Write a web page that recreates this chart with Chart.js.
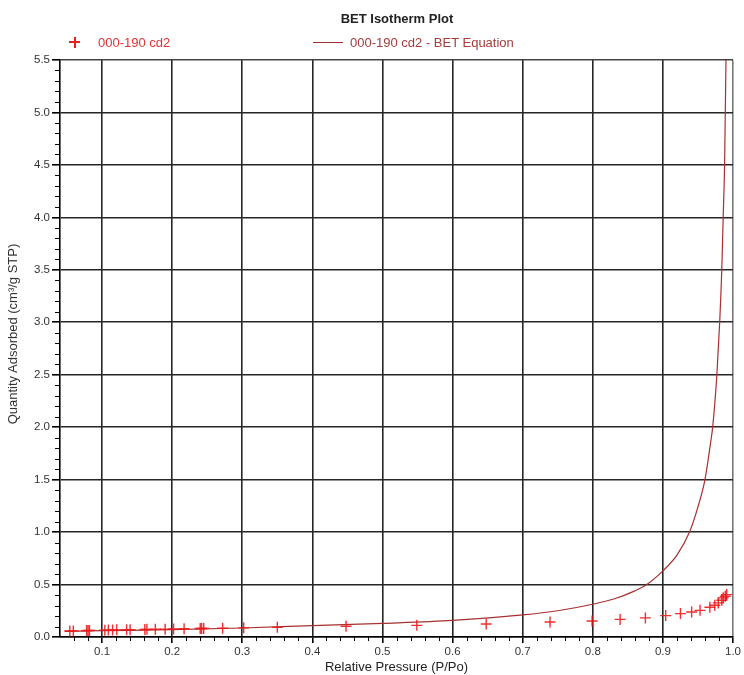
<!DOCTYPE html>
<html>
<head>
<meta charset="utf-8">
<script src="https://cdn.jsdelivr.net/npm/chart.js@4.4.1/dist/chart.umd.min.js"></script>
<style>
    body { margin: 0; background: #fff; }
    #wrap { position: relative; width: 744px; height: 675px; font-family: "Liberation Sans", Arial, sans-serif; }
    #title { position: absolute; left: 397px; top: 18px; transform: translate(-50%, -50%); font-weight: bold; font-size: 13px; color: #222; white-space: nowrap; }
    .leg { position: absolute; top: 42px; transform: translateY(-50%); font-size: 13px; white-space: nowrap; }
    #ytitle { position: absolute; left: -107px; top: 326px; width: 240px; height: 16px; line-height: 16px; text-align: center; transform: rotate(-90deg); font-size: 13px; color: #333; white-space: nowrap; }
    .crossH { position: absolute; left: 69px; top: 41px; width: 11px; height: 1.5px; background: #e82020; }
    .crossV { position: absolute; left: 74px; top: 36.5px; width: 1.5px; height: 11px; background: #e82020; }
    .lineSample { position: absolute; left: 313px; top: 41.5px; width: 30px; height: 1.3px; background: #a03030; }
</style>
</head>
<body>
<div id="wrap">
    <canvas id="chart" width="744" height="675"></canvas>
    <div id="title">BET Isotherm Plot</div>
    <div class="crossH"></div><div class="crossV"></div>
    <div class="leg" style="left:98px; color:#e03434;">000-190 cd2</div>
    <div class="lineSample"></div>
    <div class="leg" style="left:350px; color:#a43c3c;">000-190 cd2 - BET Equation</div>
    <div id="ytitle">Quantity Adsorbed (cm³/g STP)</div>
</div>
<script>
// measured points (relative pressure, quantity adsorbed)
const pointsX = [0.054, 0.059, 0.078, 0.080, 0.082, 0.104, 0.109, 0.115, 0.121, 0.135, 0.140,
    0.161, 0.164, 0.176, 0.190, 0.202, 0.217, 0.240, 0.242, 0.245, 0.272, 0.302, 0.350, 0.448,
    0.549, 0.648, 0.739, 0.799, 0.839, 0.875, 0.904, 0.925, 0.941, 0.953, 0.967, 0.974, 0.979,
    0.984, 0.986, 0.989, 0.991]
const pointsY = [0.057, 0.058, 0.061, 0.062, 0.063, 0.065, 0.066, 0.067, 0.068, 0.069, 0.070,
    0.072, 0.073, 0.074, 0.075, 0.076, 0.078, 0.081, 0.081, 0.082, 0.084, 0.087, 0.092, 0.102,
    0.111, 0.124, 0.143, 0.153, 0.168, 0.182, 0.204, 0.223, 0.239, 0.254, 0.283, 0.302, 0.325,
    0.350, 0.373, 0.388, 0.404]

// bet equation curve
const curveX = [0.047, 0.1, 0.2, 0.3, 0.4, 0.5, 0.6, 0.7, 0.75, 0.8, 0.83, 0.86, 0.877, 0.9,
    0.92, 0.938, 0.95, 0.96, 0.968, 0.971, 0.977, 0.981, 0.984, 0.986, 0.988, 0.989, 0.990]
const curveY = [0.054, 0.060, 0.070, 0.086, 0.108, 0.130, 0.158, 0.210, 0.25, 0.312, 0.362, 0.44,
    0.50, 0.63, 0.78, 1.0, 1.24, 1.5, 1.85, 2.0, 2.5, 3.0, 3.5, 4.0, 4.5, 5.0, 5.5]

// tick values
const xTickValues = [0.1, 0.2, 0.3, 0.4, 0.5, 0.6, 0.7, 0.8, 0.9, 1.0]
const yTickValues = [0, 0.5, 1.0, 1.5, 2.0, 2.5, 3.0, 3.5, 4.0, 4.5, 5.0, 5.5]
const xMinorTicks = []
for (let i = 3; i < 50; i++) { if (i % 5 !== 0) xMinorTicks.push(i * 0.02) }
const yMinorTicks = []
for (let i = 1; i < 55; i++) { if (i % 5 !== 0) yMinorTicks.push(i * 0.1) }

const tickFont = { family: '"Liberation Sans", Arial, sans-serif', size: 11.5 }

// plugin drawing the small minor ticks outside the axes
const minorTicks = {
    id: 'minorTicks',
    afterDraw(chart) {
        const { ctx, chartArea, scales } = chart
        ctx.save()
        ctx.strokeStyle = '#000'
        ctx.lineWidth = 1
        ctx.beginPath()
        yMinorTicks.forEach(v => {
            const py = Math.round(scales.y.getPixelForValue(v)) + 0.5
            ctx.moveTo(chartArea.left - 5, py)
            ctx.lineTo(chartArea.left, py)
        })
        xMinorTicks.forEach(v => {
            const px = Math.round(scales.x.getPixelForValue(v)) + 0.5
            ctx.moveTo(px, chartArea.bottom)
            ctx.lineTo(px, chartArea.bottom + 4)
        })
        ctx.stroke()
        ctx.restore()
    }
}

// grid lines, the right and top edges are a lighter grey
const xGridColor = c => (c.tick && c.tick.value === 1.0) ? '#777' : '#262626'
const yGridColor = c => (c.tick && c.tick.value === 5.5) ? '#444' : '#262626'

new Chart(document.getElementById('chart').getContext('2d'), {
    type: 'scatter',
    data: {
        datasets: [{
            label: '000-190 cd2',
            data: pointsX.map((x, i) => ({ x: x, y: pointsY[i] })),
            pointStyle: 'cross',
            pointRadius: 5.5,
            borderColor: 'rgba(235, 25, 25, 0.9)',
            borderWidth: 1.4
        }, {
            label: '000-190 cd2 - BET Equation',
            data: curveX.map((x, i) => ({ x: x, y: curveY[i] })),
            showLine: true,
            pointRadius: 0,
            borderColor: '#a83030',
            borderWidth: 1.2,
            cubicInterpolationMode: 'monotone'
        }]
    },
    options: {
        responsive: false,
        devicePixelRatio: 1,
        animation: false,
        layout: { padding: { top: 60, right: 11, left: 0, bottom: 0 } },
        plugins: {
            legend: { display: false },
            title: { display: false },
            tooltip: { enabled: false }
        },
        scales: {
            x: {
                type: 'linear',
                min: 0.04,
                max: 1.0,
                afterBuildTicks: s => { s.ticks = xTickValues.map(v => ({ value: v })) },
                afterFit: s => { s.height = 38 },
                ticks: {
                    callback: v => v.toFixed(1),
                    autoSkip: false,
                    maxRotation: 0,
                    font: tickFont,
                    color: '#333',
                    padding: 2
                },
                grid: { color: xGridColor, lineWidth: 1.6, tickLength: 6, tickColor: '#000' },
                border: { color: '#000', width: 1.6 },
                title: {
                    display: true,
                    text: 'Relative Pressure (P/Po)',
                    color: '#222',
                    font: { family: '"Liberation Sans", Arial, sans-serif', size: 13 },
                    padding: { top: 0, bottom: 0 }
                }
            },
            y: {
                min: 0,
                max: 5.5,
                afterBuildTicks: s => { s.ticks = yTickValues.map(v => ({ value: v })) },
                afterFit: s => { s.width = 60 },
                ticks: {
                    callback: v => v.toFixed(1),
                    autoSkip: false,
                    font: tickFont,
                    color: '#333',
                    padding: 2
                },
                grid: { color: yGridColor, lineWidth: 1.6, tickLength: 8, tickColor: '#000' },
                border: { color: '#000', width: 1.6 }
            }
        }
    },
    plugins: [minorTicks]
})
</script>
</body>
</html>
